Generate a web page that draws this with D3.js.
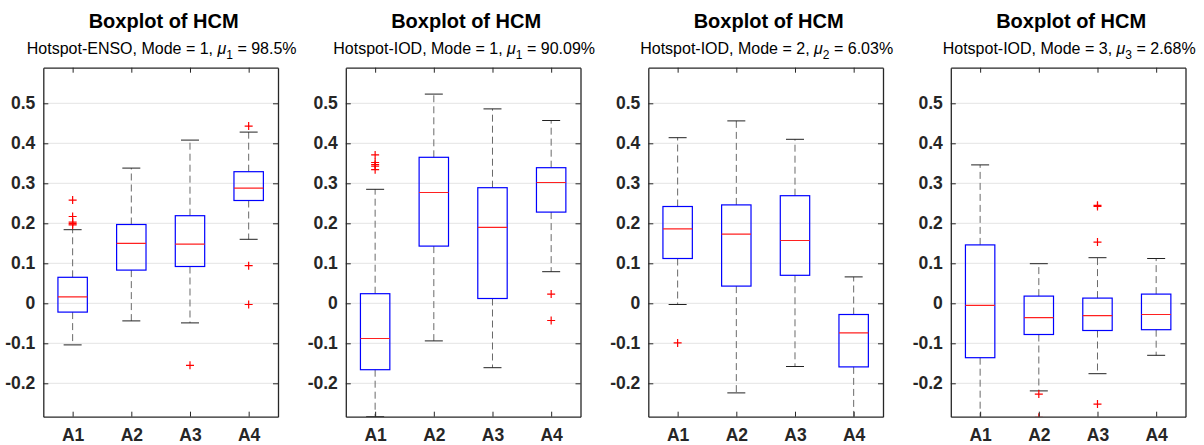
<!DOCTYPE html>
<html>
<head>
	<title>Boxplot of HCM</title>
	<script type="text/javascript" src="https://cdn.jsdelivr.net/npm/d3@7"></script>
	<style>
		body { margin: 0; background: #fff; }
		text { font-family: Arial, "Liberation Sans", Helvetica, sans-serif; }
	</style>
</head>
<body>
	<script type="text/javascript">
		var width = 1204,
			height = 445;

		// data
		var categories = ['A1', 'A2', 'A3', 'A4'];
		var regions = ['Hotspot-ENSO', 'Hotspot-IOD', 'Hotspot-IOD', 'Hotspot-IOD'];
		var modes = [1, 1, 2, 3];
		var muValues = ['98.5', '90.09', '6.03', '2.68'];
		var yTicks = [-0.2, -0.1, 0, 0.1, 0.2, 0.3, 0.4, 0.5];
		var yTickLabels = ['-0.2', '-0.1', '0', '0.1', '0.2', '0.3', '0.4', '0.5'];

		var q1 = [
			[-0.022, 0.083, 0.092, 0.257],
			[-0.166, 0.143, 0.012, 0.228],
			[0.112, 0.043, 0.070, -0.159],
			[-0.136, -0.078, -0.068, -0.066]
		];
		var medians = [
			[0.016, 0.150, 0.148, 0.288],
			[-0.088, 0.277, 0.190, 0.302],
			[0.186, 0.173, 0.157, -0.074],
			[-0.005, -0.036, -0.031, -0.028]
		];
		var q3 = [
			[0.065, 0.197, 0.219, 0.329],
			[0.024, 0.365, 0.289, 0.339],
			[0.242, 0.246, 0.269, -0.028],
			[0.146, 0.018, 0.013, 0.023]
		];
		var whiskerLow = [
			[-0.104, -0.044, -0.049, 0.160],
			[-0.283, -0.094, -0.161, 0.079],
			[-0.003, -0.224, -0.158, -0.300],
			[-0.300, -0.219, -0.176, -0.130]
		];
		var whiskerHigh = [
			[0.184, 0.338, 0.408, 0.428],
			[0.285, 0.523, 0.486, 0.457],
			[0.414, 0.456, 0.410, 0.066],
			[0.346, 0.099, 0.114, 0.112]
		];
		var outliers = [
			[[0.258, 0.217, 0.203, 0.199, 0.196], [], [-0.155], [0.443, 0.094, -0.003]],
			[[0.371, 0.352, 0.347, 0.343, 0.334], [], [], [0.023, -0.043]],
			[[-0.099], [], [], []],
			[[], [-0.227, -0.285], [0.245, 0.242, 0.153, -0.252], []]
		];

		var panel = {left : 43.3, step : 302.5, width : 234.7, top : 67.7, bottom : 416.7};
		var yMin = -0.2835, yMax = 0.589;
		var boxHalf = 14.7, capHalf = 9, tickLen = 5;

		var svg = d3.select('body')
					.append('svg')
					.attr('width', width)
					.attr('height', height);

		var y = d3.scaleLinear()
					.domain([yMin, yMax])
					.range([panel.bottom, panel.top]);

		function drawPanel(p){
			var x0 = panel.left + p * panel.step;
			var x = d3.scaleLinear()
						.domain([0.5, categories.length + 0.5])
						.range([x0, x0 + panel.width]);
			var g = svg.append('g');

			g.append('clipPath')
				.attr('id', 'clip' + p)
				.append('rect')
				.attr('x', x0).attr('y', panel.top)
				.attr('width', panel.width).attr('height', panel.bottom - panel.top);

			// grid
			g.selectAll('line.grid')
				.data(yTicks)
				.enter().append('line')
				.attr('class', 'grid')
				.attr('x1', x0).attr('x2', x0 + panel.width)
				.attr('y1', function(d){ return y(d); })
				.attr('y2', function(d){ return y(d); })
				.attr('stroke', '#e4e4e4')
				.attr('stroke-width', 1);

			var plot = g.append('g').attr('clip-path', 'url(#clip' + p + ')');

			var items = categories.map(function(c, i){
				return {pos : i + 1, lo : whiskerLow[p][i], q1 : q1[p][i], med : medians[p][i],
						q3 : q3[p][i], hi : whiskerHigh[p][i], out : outliers[p][i]};
			});

			var box = plot.selectAll('g.box')
						.data(items)
						.enter().append('g')
						.attr('class', 'box');

			// whiskers
			box.append('line')
				.attr('x1', function(d){ return x(d.pos); })
				.attr('x2', function(d){ return x(d.pos); })
				.attr('y1', function(d){ return y(d.q3); })
				.attr('y2', function(d){ return y(d.hi); })
				.attr('stroke', '#6a6a6a')
				.attr('stroke-dasharray', '7,4');
			box.append('line')
				.attr('x1', function(d){ return x(d.pos); })
				.attr('x2', function(d){ return x(d.pos); })
				.attr('y1', function(d){ return y(d.q1); })
				.attr('y2', function(d){ return y(d.lo); })
				.attr('stroke', '#6a6a6a')
				.attr('stroke-dasharray', '7,4');
			// caps
			['hi', 'lo'].forEach(function(k){
				box.append('line')
					.attr('x1', function(d){ return x(d.pos) - capHalf; })
					.attr('x2', function(d){ return x(d.pos) + capHalf; })
					.attr('y1', function(d){ return y(d[k]); })
					.attr('y2', function(d){ return y(d[k]); })
					.attr('stroke', '#222')
					.attr('stroke-width', 1);
			});
			// box
			box.append('rect')
				.attr('x', function(d){ return x(d.pos) - boxHalf; })
				.attr('y', function(d){ return y(d.q3); })
				.attr('width', boxHalf * 2)
				.attr('height', function(d){ return y(d.q1) - y(d.q3); })
				.attr('fill', 'none')
				.attr('stroke', '#0000ff')
				.attr('stroke-width', 1.2);
			// median
			box.append('line')
				.attr('x1', function(d){ return x(d.pos) - boxHalf; })
				.attr('x2', function(d){ return x(d.pos) + boxHalf; })
				.attr('y1', function(d){ return y(d.med); })
				.attr('y2', function(d){ return y(d.med); })
				.attr('stroke', '#ff2020')
				.attr('stroke-width', 1.2);
			// outliers
			box.selectAll('path.out')
				.data(function(d){
					return d.out.map(function(v){ return {pos : d.pos, v : v}; });
				})
				.enter().append('path')
				.attr('class', 'out')
				.attr('d', function(d){
					var cx = x(d.pos), cy = y(d.v);
					return 'M' + (cx - 4) + ',' + cy + 'H' + (cx + 4) +
						   'M' + cx + ',' + (cy - 4) + 'V' + (cy + 4);
				})
				.attr('stroke', '#ff0000')
				.attr('stroke-width', 1.2);

			// axes frame with inward ticks on all sides
			var axisColor = '#262626';
			var left = d3.axisLeft(y).tickValues(yTicks).tickSizeInner(-tickLen).tickSizeOuter(0)
						.tickFormat(function(d, i){ return yTickLabels[i]; }).tickPadding(8);
			var right = d3.axisRight(y).tickValues(yTicks).tickSizeInner(-tickLen).tickSizeOuter(0)
						.tickFormat('');
			var bottom = d3.axisBottom(x).tickValues(d3.range(1, categories.length + 1))
						.tickSizeInner(-tickLen).tickSizeOuter(0)
						.tickFormat(function(d){ return categories[d - 1]; }).tickPadding(12);
			var top = d3.axisTop(x).tickValues(d3.range(1, categories.length + 1))
						.tickSizeInner(-tickLen).tickSizeOuter(0).tickFormat('');

			var axes = [
				g.append('g').attr('transform', 'translate(' + x0 + ',0)').call(left),
				g.append('g').attr('transform', 'translate(' + (x0 + panel.width) + ',0)').call(right),
				g.append('g').attr('transform', 'translate(0,' + panel.bottom + ')').call(bottom),
				g.append('g').attr('transform', 'translate(0,' + panel.top + ')').call(top)
			];
			axes.forEach(function(a){
				a.select('.domain').attr('stroke', axisColor).attr('stroke-width', 1.3);
				a.selectAll('.tick line').attr('stroke', axisColor);
				a.selectAll('.tick text')
					.attr('fill', axisColor)
					.style('font-size', '17.5px')
					.style('font-weight', 'bold')
					.style('font-family', 'Arial, "Liberation Sans", sans-serif');
			});

			// titles
			var cx = x0 + panel.width / 2;
			g.append('text')
				.attr('x', cx + 3).attr('y', 28)
				.attr('text-anchor', 'middle')
				.style('font-size', '20px')
				.style('font-weight', 'bold')
				.attr('fill', '#000')
				.text('Boxplot of HCM');
			var sub = g.append('text')
				.attr('x', cx + 1).attr('y', 53.5)
				.attr('text-anchor', 'middle')
				.style('font-size', '16px')
				.attr('fill', '#000');
			sub.append('tspan').text(regions[p] + ', Mode = ' + modes[p] + ', ');
			sub.append('tspan').style('font-style', 'italic').text('\u03bc');
			sub.append('tspan').attr('dy', 5).style('font-size', '12px').text(modes[p]);
			sub.append('tspan').attr('dy', -5).text(' = ' + muValues[p] + '%');
		}

		for (var p = 0; p < 4; p++){
			drawPanel(p);
		}
	</script>
</body>
</html>
